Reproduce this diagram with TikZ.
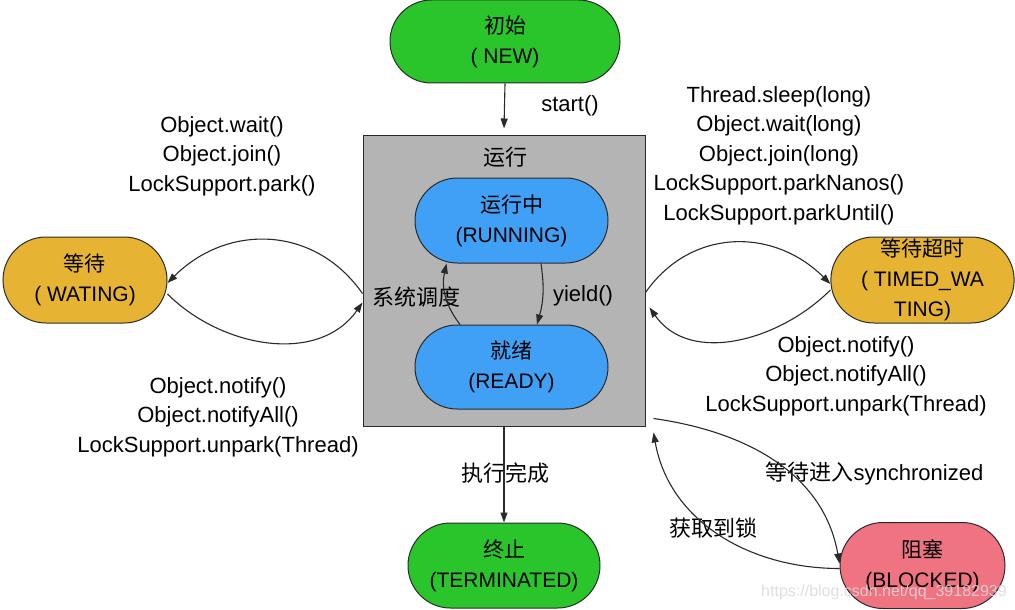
\documentclass[tikz,border=0pt]{standalone}
\usepackage{fontspec}
\setmainfont{Liberation Sans}
\newfontfamily\cjk{Noto Sans CJK SC}
\newcommand{\myzh}[1]{{\cjk #1}}
\usetikzlibrary{shapes.misc,arrows.meta}
\definecolor{cgreen}{HTML}{2AC52A}
\definecolor{cblue}{HTML}{40A0F5}
\definecolor{cgold}{HTML}{E6B432}
\definecolor{cpink}{HTML}{F07382}
\definecolor{cgray}{HTML}{B4B4B4}
\definecolor{cline}{HTML}{2A2A2A}
\begin{document}
\begin{tikzpicture}[x=1pt,y=1pt,
  state/.style={rounded rectangle, draw=cline, line width=1pt, inner sep=0pt,
    align=center, font=\fontsize{21}{30}\selectfont},
  lbl/.style={align=center, inner sep=0pt, font=\fontsize{22}{29.5}\selectfont},
  conn/.style={draw=cline, line width=1.1pt, -{Triangle[length=10pt,width=7pt]}},
]
\useasboundingbox (0,0) rectangle (1015,-610);

% container
\node[draw=cline, fill=cgray, line width=1pt, minimum width=282, minimum height=291, inner sep=0pt] (run) at (504,-280.5) {};
\node[lbl] (runlbl) at (505,-157) {\myzh{运行}};

% states
\node[state, fill=cgreen, minimum width=230, minimum height=83] (new) at (505,-41.5) {\myzh{初始}\\( NEW)};
\node[state, fill=cblue, minimum width=193, minimum height=85] (running) at (511.5,-220.5) {\myzh{运行中}\\(RUNNING)};
\node[state, fill=cblue, minimum width=193, minimum height=84] (ready) at (511.5,-367) {\myzh{就绪}\\(READY)};
\node[state, fill=cgreen, minimum width=192, minimum height=85] (term) at (504,-565.5) {\myzh{终止}\\(TERMINATED)};
\node[state, fill=cgold, minimum width=164, minimum height=86] (wait) at (85,-280) {\myzh{等待}\\( WATING)};
\node[state, fill=cgold, minimum width=165, minimum height=86] (timed) at (922.5,-280) {\myzh{等待超时}\\( TIMED\_WA\\TING)};
\node[state, fill=cpink, minimum width=165, minimum height=86] (block) at (922.5,-565.5) {\myzh{阻塞}\\(BLOCKED)};

% labels
\node[lbl] (lstart) at (570,-106) {start()};
\node[lbl] (lwaitin) at (222,-156) {Object.wait()\\Object.join()\\LockSupport.park()};
\node[lbl] (lwaitout) at (218,-417) {Object.notify()\\Object.notifyAll()\\LockSupport.unpark(Thread)};
\node[lbl] (ltimedin) at (779,-155.5) {Thread.sleep(long)\\Object.wait(long)\\Object.join(long)\\LockSupport.parkNanos()\\LockSupport.parkUntil()};
\node[lbl] (ltimedout) at (846,-376) {Object.notify()\\Object.notifyAll()\\LockSupport.unpark(Thread)};
\node[lbl] (lsched) at (416,-297) {\myzh{系统调度}};
\node[lbl] (lyield) at (583,-296) {yield()};
\node[lbl] (ldone) at (505,-473) {\myzh{执行完成}};
\node[lbl] (lsync) at (874.5,-473) {\myzh{等待进入}synchronized};
\node[lbl] (llock) at (713.5,-528) {\myzh{获取到锁}};

% connectors
\draw[conn] (new.south) -- ([yshift=6pt]run.north);
\draw[conn] (run.south) -- (term.north);
\draw[conn] ([xshift=29.5pt]running.south) to[bend left=12] ([xshift=25.5pt]ready.north);
\draw[conn] ([xshift=-51.5pt]ready.north) to[bend left=25] ([xshift=-65pt]running.south);

\draw[conn] ([yshift=-13pt]run.west) to[out=125,in=45,looseness=1.1] ([yshift=-3pt]wait.east);
\draw[conn] ([yshift=-14pt]wait.east) to[out=-45,in=-125] ([yshift=-22pt]run.west);

\draw[conn] ([yshift=-12pt]run.east) to[out=55,in=135,looseness=1.1] ([yshift=-4pt]timed.west);
\draw[conn] ([yshift=-10pt]timed.west) to[out=-135,in=-55] ([shift={(4pt,-27pt)}]run.east);

\draw[conn] ([shift={(8pt,8pt)}]run.south east) to[out=-8,in=100] ([yshift=2pt]block.west);
\draw[conn] ([yshift=-3pt]block.west) to[out=180,in=-80] ([shift={(8pt,-6pt)}]run.south east);

% watermark
\node[inner sep=0pt, font=\fontsize{16}{18}\selectfont, text=white!70!gray, text opacity=0.85] (wm) at (884,-592) {https://blog.csdn.net/qq\_39182939};
\end{tikzpicture}
\end{document}
